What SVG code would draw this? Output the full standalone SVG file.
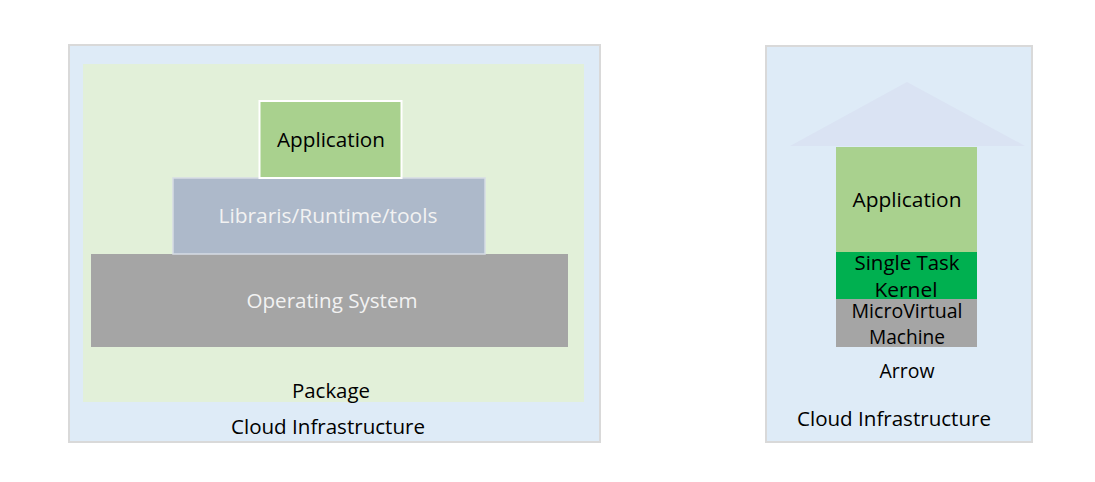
<svg xmlns="http://www.w3.org/2000/svg" width="1095" height="482" viewBox="0 0 1095 482">
<style>
text{font-family:"Open Sans","Liberation Sans",Arial,sans-serif;font-size:20px;text-anchor:middle;fill:#000}
.w{fill:#f2f2f2}
.cloud{fill:#deebf7;stroke:#d9d9d9;stroke-width:2}
</style>
<rect width="1095" height="482" fill="#fff"/>
<g id="cloud-left">
<rect class="cloud" x="69" y="45" width="531" height="397"/>
<text x="328" y="434" textLength="194" lengthAdjust="spacingAndGlyphs">Cloud Infrastructure</text>
</g>
<g id="package">
<rect x="83" y="64" width="501" height="338" fill="#e2f0d9"/>
<text x="331" y="398" textLength="78" lengthAdjust="spacingAndGlyphs">Package</text>
</g>
<g id="os">
<rect x="91" y="254" width="477" height="93" fill="#a5a5a5"/>
<text class="w" x="332" y="308" textLength="171" lengthAdjust="spacingAndGlyphs">Operating System</text>
</g>
<g id="libs">
<rect x="173" y="178" width="312" height="76" fill="#adb9ca" stroke="#d6dce5" stroke-width="1.5"/>
<text class="w" x="328" y="223" textLength="219" lengthAdjust="spacingAndGlyphs">Libraris/Runtime/tools</text>
</g>
<g id="app-left">
<rect x="259.5" y="101" width="142" height="77" fill="#a9d18e" stroke="#fff" stroke-width="2"/>
<text x="331" y="147" textLength="108" lengthAdjust="spacingAndGlyphs">Application</text>
</g>
<g id="cloud-right">
<rect class="cloud" x="766" y="46" width="266" height="396"/>
<text x="894" y="426" textLength="194" lengthAdjust="spacingAndGlyphs">Cloud Infrastructure</text>
</g>
<g id="arrow">
<polygon points="907,82 1025,146 790,146" fill="#dae3f3"/>
<text x="907" y="378" textLength="55" lengthAdjust="spacingAndGlyphs">Arrow</text>
</g>
<g id="app-right">
<rect x="836" y="147" width="141" height="105" fill="#a9d18e"/>
<text x="907" y="207" textLength="109" lengthAdjust="spacingAndGlyphs">Application</text>
</g>
<g id="kernel">
<rect x="836" y="252" width="141" height="47" fill="#00b050"/>
<text x="907" y="270" textLength="105" lengthAdjust="spacingAndGlyphs">Single Task</text>
<text x="906" y="297" textLength="63" lengthAdjust="spacingAndGlyphs">Kernel</text>
</g>
<g id="mvm">
<rect x="836" y="299" width="141" height="48" fill="#a5a5a5"/>
<text x="907" y="318" textLength="111" lengthAdjust="spacingAndGlyphs">MicroVirtual</text>
<text x="907" y="344" textLength="76" lengthAdjust="spacingAndGlyphs">Machine</text>
</g>
<g id="connectors"></g>
</svg>
